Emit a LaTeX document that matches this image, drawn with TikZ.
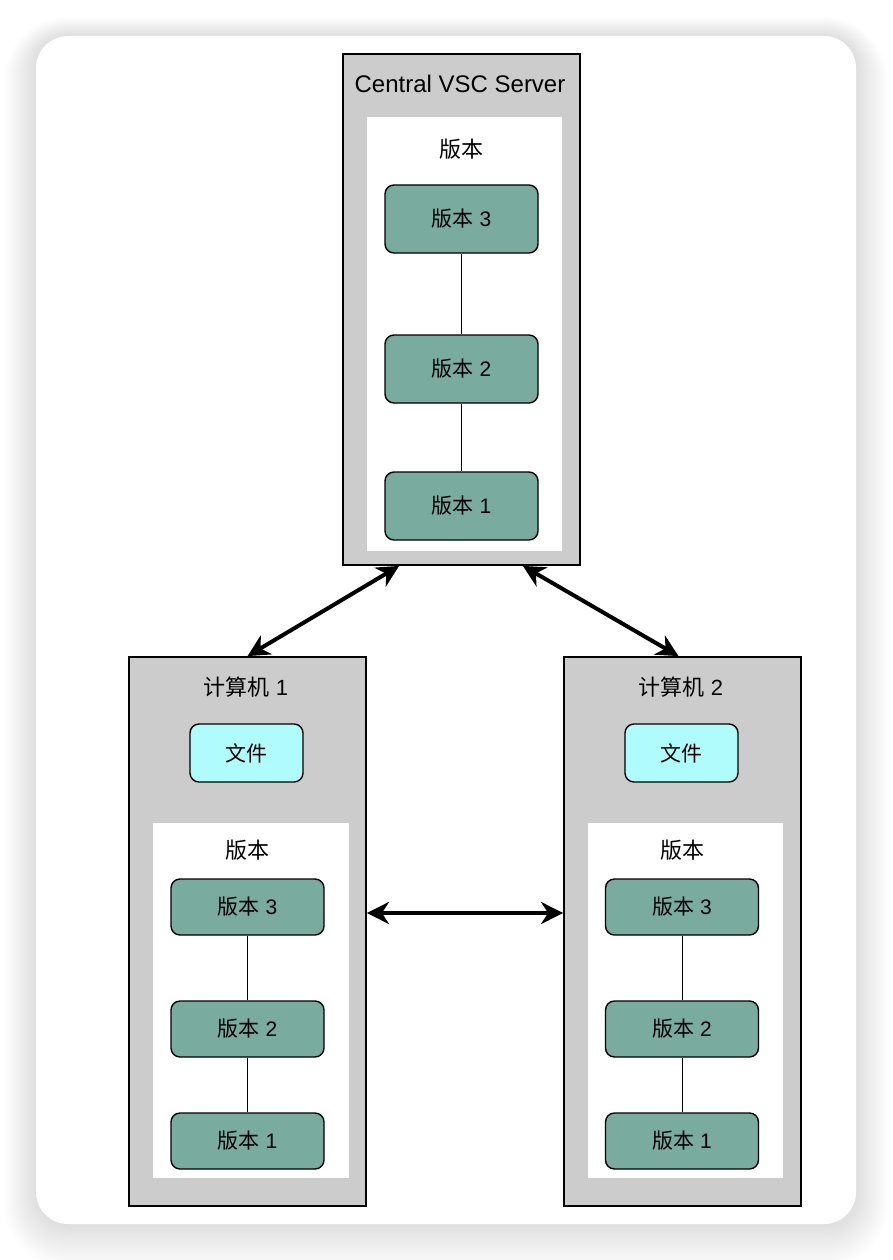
\documentclass[tikz,border=0pt]{standalone}
\usepackage{fontspec}
\setmainfont{Liberation Sans}
\newfontfamily\cjk{Noto Sans CJK SC}
\usetikzlibrary{arrows.meta}
\definecolor{boxgray}{HTML}{CCCCCC}
\definecolor{teal}{HTML}{79AB9F}
\definecolor{cyanbox}{HTML}{B0FCFC}
\tikzset{
  outerbox/.style={draw=black, line width=1.8pt, fill=boxgray, rectangle, inner sep=0pt},
  innerbox/.style={fill=white, draw=none, rectangle, inner sep=0pt},
  verbox/.style={draw=black, line width=1.4pt, fill=teal, rounded corners=9pt, minimum width=153pt, inner sep=0pt, font=\fontsize{21}{25}\selectfont},
  filebox/.style={draw=black, line width=1.4pt, fill=cyanbox, rounded corners=9pt, minimum width=113pt, minimum height=58pt, inner sep=0pt, font=\fontsize{21}{25}\selectfont},
  lbl/.style={inner sep=0pt, font=\fontsize{22}{26}\selectfont},
  link/.style={line width=1pt, draw=black},
  bigarrow/.style={line width=4pt, draw=black, {Stealth[length=22pt,width=22pt,inset=7pt]}-{Stealth[length=22pt,width=22pt,inset=7pt]}}
}
\begin{document}
\begin{tikzpicture}[x=1pt,y=-1pt]
\useasboundingbox (0,0) rectangle (892,1260);
% card shadow
\foreach \i in {1,...,32}{
  \pgfmathsetmacro\rr{32+\i}
  \fill[black, opacity=0.0042, rounded corners=\rr pt] (36-\i,36-\i+0.4*\i) rectangle (856+\i,1224+\i+0.4*\i);
}
\fill[white, rounded corners=32pt] (36,36) rectangle (856,1224);

% server
\node[outerbox, minimum width=237pt, minimum height=511pt] (srv) at (461.5,309.5) {};
\node[innerbox, minimum width=195pt, minimum height=434pt] (srvin) at (464.5,334) {};
\node[lbl, font=\fontsize{24}{28}\selectfont] (srvt) at (460,84) {Central VSC Server};
\node[lbl] (srvh) at (461,149) {\cjk 版本};
\node[verbox, minimum height=68pt] (s3) at (461.5,219) {{\cjk 版本} 3};
\node[verbox, minimum height=68pt] (s2) at (461.5,369) {{\cjk 版本} 2};
\node[verbox, minimum height=68pt] (s1) at (461.5,506) {{\cjk 版本} 1};
\draw[link] (s3) -- (s2);
\draw[link] (s2) -- (s1);

% computer 1
\node[outerbox, minimum width=237pt, minimum height=549pt] (c1) at (247.5,931.5) {};
\node[innerbox, minimum width=196pt, minimum height=355pt] (c1in) at (251,1000.5) {};
\node[lbl] (c1t) at (246,687) {{\cjk 计算机} 1};
\node[filebox] (c1f) at (246.5,753) {\cjk 文件};
\node[lbl] (c1h) at (247,850) {\cjk 版本};
\node[verbox, minimum height=56pt] (a3) at (247.5,907) {{\cjk 版本} 3};
\node[verbox, minimum height=56pt] (a2) at (247.5,1029) {{\cjk 版本} 2};
\node[verbox, minimum height=56pt] (a1) at (247.5,1141) {{\cjk 版本} 1};
\draw[link] (a3) -- (a2);
\draw[link] (a2) -- (a1);

% computer 2
\node[outerbox, minimum width=237pt, minimum height=549pt] (c2) at (682.5,931.5) {};
\node[innerbox, minimum width=195pt, minimum height=355pt] (c2in) at (685.5,1000.5) {};
\node[lbl] (c2t) at (681,687) {{\cjk 计算机} 2};
\node[filebox] (c2f) at (681.5,753) {\cjk 文件};
\node[lbl] (c2h) at (682,850) {\cjk 版本};
\node[verbox, minimum height=56pt] (b3) at (682,907) {{\cjk 版本} 3};
\node[verbox, minimum height=56pt] (b2) at (682,1029) {{\cjk 版本} 2};
\node[verbox, minimum height=56pt] (b1) at (682,1141) {{\cjk 版本} 1};
\draw[link] (b3) -- (b2);
\draw[link] (b2) -- (b1);

% arrows
\coordinate (pL) at ([xshift=57pt]srv.south west);
\coordinate (pR) at ([xshift=-58pt]srv.south east);
\coordinate (qL) at (c1.north);
\coordinate (qR) at ([xshift=-4pt]c2.north);
\coordinate (hL) at ([yshift=18.5pt]c1.east);
\coordinate (hR) at ([yshift=18.5pt]c2.west);
\draw[bigarrow] (pL) -- (qL);
\draw[bigarrow] (pR) -- (qR);
\draw[bigarrow] (hL) -- (hR);
\end{tikzpicture}
\end{document}
